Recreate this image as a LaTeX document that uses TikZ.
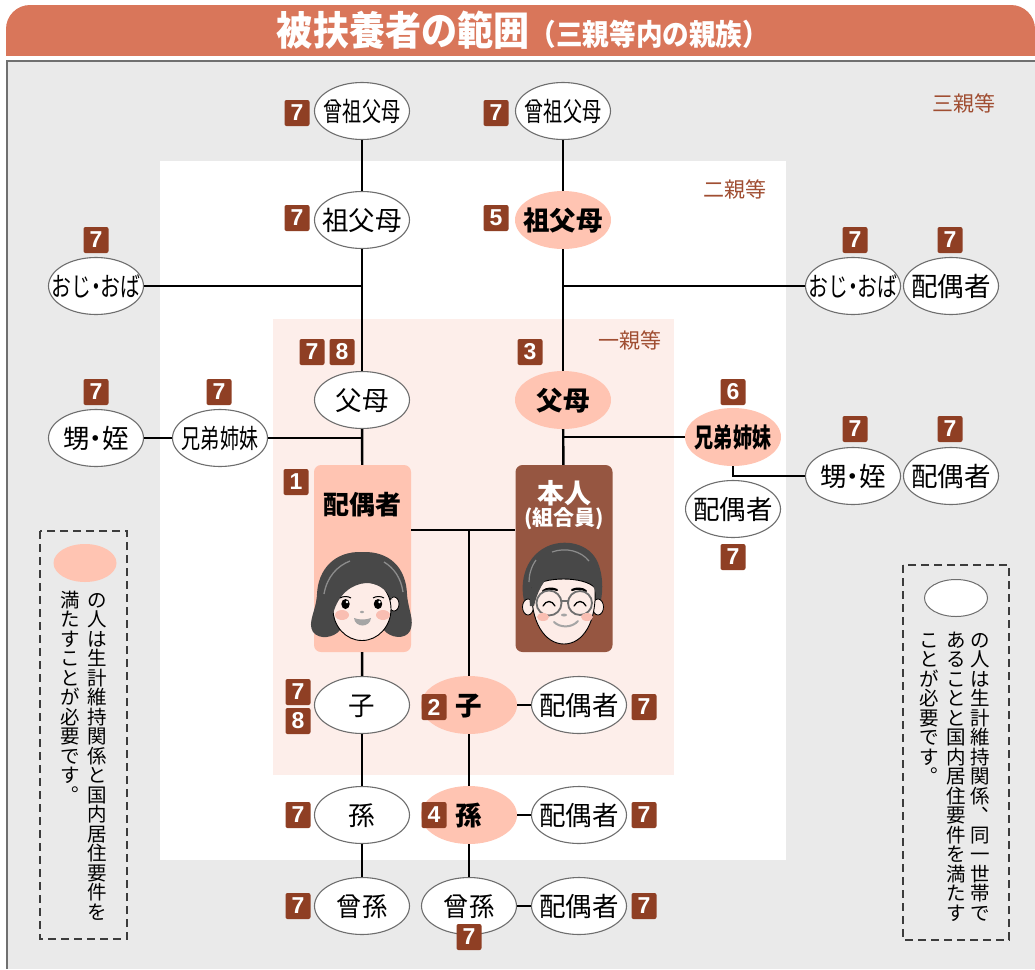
\documentclass[tikz,border=0pt]{standalone}
\usepackage{fontspec}
\usepackage{graphicx}
\setmainfont{Noto Sans CJK JP}
\newfontfamily\numfont{Liberation Sans}
\usetikzlibrary{shapes.geometric}
\definecolor{titlecol}{RGB}{217,118,90}
\definecolor{panelgray}{RGB}{234,234,234}
\definecolor{panelborder}{RGB}{112,112,112}
\definecolor{pinkbg}{RGB}{253,238,234}
\definecolor{pinkfill}{RGB}{255,196,178}
\definecolor{browncard}{RGB}{150,86,65}
\definecolor{badgecol}{RGB}{143,63,36}
\definecolor{degcol}{RGB}{160,78,50}
\definecolor{edgegray}{RGB}{110,110,110}
\definecolor{dashcol}{RGB}{60,60,60}
\definecolor{haircol}{RGB}{72,72,72}
\definecolor{hairhl}{RGB}{140,140,140}
\definecolor{skincol}{RGB}{253,236,231}
\definecolor{cheekcol}{RGB}{249,190,178}
\definecolor{mouthcol}{RGB}{165,165,165}
\definecolor{glasscol}{RGB}{110,110,110}
\newcommand\zw[1]{\makebox[0pt]{\vrule height 0.88em depth 0.12em width 0pt\relax #1}}
\newcommand\sq[2]{\scalebox{#1}[1]{#2}}
\newcommand\nd{\kern-0.27em・\kern-0.27em}
\def\vstop{VSTOP}
\newcommand\vcell[1]{\hbox to 19.5pt{\vrule height 17pt depth 2.5pt width 0pt\hss#1\hss}}
\newcommand\vpu[1]{\makebox[0pt][l]{\kern1.5pt\raisebox{11pt}{#1}}}
\def\vstackA#1{\ifx\vstop#1\relax\else\vcell{#1}\expandafter\vstackA\fi}
\newcommand\vstack[1]{\vbox{\offinterlineskip\vstackA#1\vstop}}
\tikzset{
 famline/.style={line width=2.4pt, draw=black},
 whitenode/.style={ellipse, draw=edgegray, line width=1.1pt, fill=white, minimum width=95pt, minimum height=57pt, inner sep=0pt, font=\fontsize{26.5}{26.5}\selectfont},
 pinknode/.style={ellipse, fill=pinkfill, minimum width=96pt, minimum height=58pt, inner sep=0pt, font=\bfseries\fontsize{26.5}{26.5}\selectfont},
 numbadge/.style={rectangle, rounded corners=2pt, fill=badgecol, text=white, minimum width=25pt, minimum height=26pt, inner sep=0pt, font=\numfont\bfseries\fontsize{23}{23}\selectfont},
 degtext/.style={text=degcol, font=\fontsize{21}{21}\selectfont, inner sep=0pt},
 cardbox/.style={rectangle, rounded corners=7pt, minimum width=97pt, minimum height=187pt, inner sep=0pt},
 notebox/.style={draw=dashcol, dash pattern=on 8pt off 5pt, line width=1.2pt},
}
\begin{document}
\begin{tikzpicture}[x=1pt,y=-1pt]
\useasboundingbox (0,0) rectangle (1035,969);
\fill[white] (0,0) rectangle (1035,969);
% title bar
\begin{scope}
\clip (0,0) rectangle (1035,55);
\fill[titlecol, rounded corners=24pt] (6,5) rectangle (1035,120);
\end{scope}
\node[text=white, inner sep=0pt] (title) at (523,30) {\bfseries\scalebox{0.95}[1.05]{\fontsize{38}{38}\selectfont 被扶養者の範囲\fontsize{28}{28}\selectfont（三親等内の親族）}};
% panel
\fill[panelgray] (6,60) rectangle (1035,969);
\draw[panelborder, line width=2.5pt] (7,969) -- (7,61) -- (1035,61);
\fill[white] (160,161) rectangle (786,860);
\fill[pinkbg] (273,319) rectangle (674,775);
\node[degtext] (d3) at (964,103) {三親等};
\node[degtext] (d2) at (735,189) {二親等};
\node[degtext] (d1) at (630,340) {一親等};
% nodes
\node[whitenode] (ggL) at (362,111) {\zw{\sq{0.72}{曾祖父母}}};
\node[whitenode] (ggR) at (563,111) {\zw{\sq{0.72}{曾祖父母}}};
\node[whitenode] (gL) at (362,220) {\zw{祖父母}};
\node[pinknode] (gR) at (563,220) {\zw{祖父母}};
\node[whitenode] (ojL) at (96,286) {\zw{\sq{0.75}{おじ\nd おば}}};
\node[whitenode] (ojR) at (853,286) {\zw{\sq{0.75}{おじ\nd おば}}};
\node[whitenode] (ojRs) at (951,286) {\zw{配偶者}};
\node[whitenode] (pL) at (362,400) {\zw{父母}};
\node[pinknode] (pR) at (563,400) {\zw{父母}};
\node[whitenode] (sibL) at (220,438) {\zw{\sq{0.72}{兄弟姉妹}}};
\node[whitenode] (neL) at (96,438) {\zw{甥\nd 姪}};
\node[pinknode] (sibR) at (733,437) {\zw{\sq{0.72}{兄弟姉妹}}};
\node[whitenode] (sibRs) at (733,509) {\zw{配偶者}};
\node[whitenode] (neR) at (853,476) {\zw{甥\nd 姪}};
\node[whitenode] (neRs) at (951,476) {\zw{配偶者}};
\node[cardbox, fill=pinkfill] (cardL) at (362.5,558.5) {};
\node[cardbox, fill=browncard] (cardR) at (564,558.5) {};
\node[inner sep=0pt, font=\bfseries\fontsize{26}{26}\selectfont] (cardLt) at (362,505) {配偶者};
\node[inner sep=0pt, text=white, font=\bfseries\fontsize{27}{27}\selectfont] (cardRt) at (564,493) {本人};
\node[inner sep=0pt, text=white, font=\bfseries\fontsize{21}{21}\selectfont] (cardRt2) at (564,519) {(組合員)};
\node[whitenode] (chL) at (362,705) {\zw{子}};
\node[pinknode] (chP) at (469,705) {\zw{子}};
\node[whitenode] (chPs) at (579,705) {\zw{配偶者}};
\node[whitenode] (gcL) at (362,815) {\zw{孫}};
\node[pinknode] (gcP) at (469,815) {\zw{孫}};
\node[whitenode] (gcPs) at (579,815) {\zw{配偶者}};
\node[whitenode] (ggcL) at (362,906) {\zw{\sq{0.95}{曾孫}}};
\node[whitenode] (ggcM) at (469,906) {\zw{\sq{0.95}{曾孫}}};
\node[whitenode] (ggcMs) at (579,906) {\zw{配偶者}};
% junctions
\coordinate (jL1) at (363,286);
\coordinate (jL2) at (362,438);
\coordinate (jR1) at (563,286);
\coordinate (jR2) at (563,437);
\coordinate (jS) at (733,476);
\coordinate (jM) at (469,530);
% connectors
\draw[famline] (ggL) -- (gL);
\draw[famline] (gL) -- (pL);
\draw[famline] (pL) -- (cardL);
\draw[famline] (ojL) -- (jL1);
\draw[famline] (neL) -- (sibL);
\draw[famline] (sibL) -- (jL2);
\draw[famline] (ggR) -- (gR);
\draw[famline] (gR) -- (pR);
\draw[famline] (pR) -- (cardR);
\draw[famline] (jR1) -- (ojR);
\draw[famline] (jR2) -- (sibR);
\draw[famline] (sibR) -- (jS) -- (neR);
\draw[famline] (cardL.east |- jM) -- (cardR.west |- jM);
\draw[famline] (cardL) -- (chL);
\draw[famline] (chL) -- (gcL);
\draw[famline] (gcL) -- (ggcL);
\draw[famline] (jM) -- (chP);
\draw[famline] (chP) -- (gcP);
\draw[famline] (gcP) -- (ggcM);
\draw[famline] (chP) -- (chPs);
\draw[famline] (gcP) -- (gcPs);
\draw[famline] (ggcM) -- (ggcMs);
% woman face
\fill[haircol] (362,552) .. controls (334,551) and (318,570) .. (317,594) .. controls (316,612) and (307,622) .. (313,632) .. controls (319,640) and (334,638) .. (340,630) -- (384,630) .. controls (390,638) and (405,640) .. (410,631) .. controls (415,620) and (408,610) .. (407,594) .. controls (406,568) and (390,551) .. (362,552) -- cycle;
\filldraw[fill=skincol, draw=black, line width=0.8pt] (394,604) ellipse (5 and 7);
\filldraw[fill=skincol, draw=black, line width=0.9pt] (362,609) ellipse (29 and 31.5);
\fill[haircol] (330,612) .. controls (328,586) and (342,572) .. (360,571) .. controls (380,570) and (393,584) .. (392,600) .. controls (386,588) and (376,583) .. (366,583) .. controls (352,584) and (338,594) .. (333,614) -- cycle;
\draw[hairhl, line width=1.3pt] (324,594) .. controls (327,577) and (337,566) .. (350,561);
\draw[hairhl, line width=1.3pt] (384,562) .. controls (394,568) and (401,578) .. (403,592);
\draw[black, line width=1pt] (340,598) .. controls (343,596) and (348,596) .. (351,598);
\draw[black, line width=1pt] (373,598) .. controls (376,596) and (381,596) .. (384,598);
\fill[black] (345.5,604) ellipse (4.2 and 5);
\fill[black] (378,604) ellipse (4.2 and 5);
\fill[white] (347,602) circle (1.4);
\fill[white] (379.5,602) circle (1.4);
\fill[cheekcol] (342,615) ellipse (7 and 5);
\fill[cheekcol] (383,615) ellipse (7 and 5);
\fill[mouthcol] (362,612) ellipse (2 and 1.2);
\fill[mouthcol] (354,618) .. controls (355,628) and (370,628) .. (371,618) .. controls (366,620) and (359,620) .. (354,618) -- cycle;
% man face
\fill[haircol] (526,608) .. controls (518,585) and (524,558) .. (546,547) .. controls (564,538) and (590,543) .. (598,563) .. controls (604,578) and (603,596) .. (599,608) -- cycle;
\filldraw[fill=skincol, draw=black, line width=0.8pt] (528,607) ellipse (5.5 and 8);
\filldraw[fill=skincol, draw=black, line width=0.8pt] (598,607) ellipse (5.5 and 8);
\filldraw[fill=skincol, draw=black, line width=0.9pt] (532,588) .. controls (530,622) and (545,644) .. (564,644) .. controls (583,644) and (597,622) .. (595,588) .. controls (585,576) and (542,576) .. (532,588) -- cycle;
\fill[haircol] (530,606) .. controls (527,580) and (544,564) .. (565,563) .. controls (584,563) and (598,576) .. (596,594) .. controls (592,578) and (581,568) .. (569,568) .. controls (553,569) and (540,580) .. (534,606) -- cycle;
\draw[hairhl, line width=1.2pt] (552,552) .. controls (566,547) and (581,551) .. (589,561);
\draw[hairhl, line width=1.2pt] (536,560) .. controls (531,567) and (529,575) .. (529,582);
\draw[black, line width=2.2pt, line cap=round] (543,591) .. controls (547,588) and (553,588) .. (557,590);
\draw[black, line width=2.2pt, line cap=round] (572,590) .. controls (576,588) and (582,588) .. (586,591);
\draw[glasscol, line width=1.8pt] (549,603) circle (12.5);
\draw[glasscol, line width=1.8pt] (580,603) circle (12);
\draw[glasscol, line width=1.8pt] (561.5,601) -- (568,601);
\draw[black, line width=1.3pt, line cap=round] (543,606) .. controls (546,600) and (552,600) .. (555,606);
\draw[black, line width=1.3pt, line cap=round] (574,606) .. controls (577,600) and (583,600) .. (586,606);
\fill[cheekcol] (543,617) ellipse (6 and 4);
\fill[cheekcol] (587,617) ellipse (6 and 4);
\fill[mouthcol] (564,615) ellipse (3 and 1.5);
\draw[mouthcol, line width=2pt, line cap=round] (554,622) .. controls (560,628) and (572,628) .. (578,621);
% badges
\node[numbadge] (b1) at (297,113) {7};
\node[numbadge] (b2) at (496,113) {7};
\node[numbadge] (b3) at (297,218) {7};
\node[numbadge] (b4) at (496,218) {5};
\node[numbadge] (b5) at (96,240) {7};
\node[numbadge] (b6) at (855,240) {7};
\node[numbadge] (b7) at (950,240) {7};
\node[numbadge] (b8) at (312,352) {7};
\node[numbadge] (b9) at (342,352) {8};
\node[numbadge] (b10) at (530,352) {3};
\node[numbadge] (b11) at (96,392) {7};
\node[numbadge] (b12) at (219,392) {7};
\node[numbadge] (b13) at (733,392) {6};
\node[numbadge] (b14) at (855,429) {7};
\node[numbadge] (b15) at (950,429) {7};
\node[numbadge] (b16) at (296,482) {1};
\node[numbadge] (b17) at (733,557) {7};
\node[numbadge] (b18) at (298,692) {7};
\node[numbadge] (b19) at (298,721) {8};
\node[numbadge] (b20) at (434,707) {2};
\node[numbadge] (b21) at (644,707) {7};
\node[numbadge] (b22) at (298,815) {7};
\node[numbadge] (b23) at (434,815) {4};
\node[numbadge] (b24) at (644,815) {7};
\node[numbadge] (b25) at (298,906) {7};
\node[numbadge] (b26) at (469,937) {7};
\node[numbadge] (b27) at (644,906) {7};
% note boxes
\draw[notebox] (40,531) rectangle (127,939);
\node[ellipse, fill=pinkfill, minimum width=63pt, minimum height=38pt, inner sep=0pt] (keyP) at (85,563) {};
\node[anchor=north, inner sep=0pt, font=\fontsize{19.5}{19.5}\selectfont] (nl1) at (97,590) {\vstack{の人は生計維持関係と国内居住要件を}};
\node[anchor=north, inner sep=0pt, font=\fontsize{19.5}{19.5}\selectfont] (nl2) at (70,590) {\vstack{満たすことが必要です{\vpu。}}};
\draw[notebox] (903,565) rectangle (1009,940);
\node[ellipse, draw=edgegray, line width=1pt, fill=white, minimum width=63pt, minimum height=37pt, inner sep=0pt] (keyW) at (956,598) {};
\node[anchor=north, inner sep=0pt, font=\fontsize{19.5}{19.5}\selectfont] (nr1) at (980,630) {\vstack{の人は生計維持関係{\vpu、}同一世帯で}};
\node[anchor=north, inner sep=0pt, font=\fontsize{19.5}{19.5}\selectfont] (nr2) at (956,630) {\vstack{あることと国内居住要件を満たす}};
\node[anchor=north, inner sep=0pt, font=\fontsize{19.5}{19.5}\selectfont] (nr3) at (929,630) {\vstack{ことが必要です{\vpu。}}};
\end{tikzpicture}
\end{document}
